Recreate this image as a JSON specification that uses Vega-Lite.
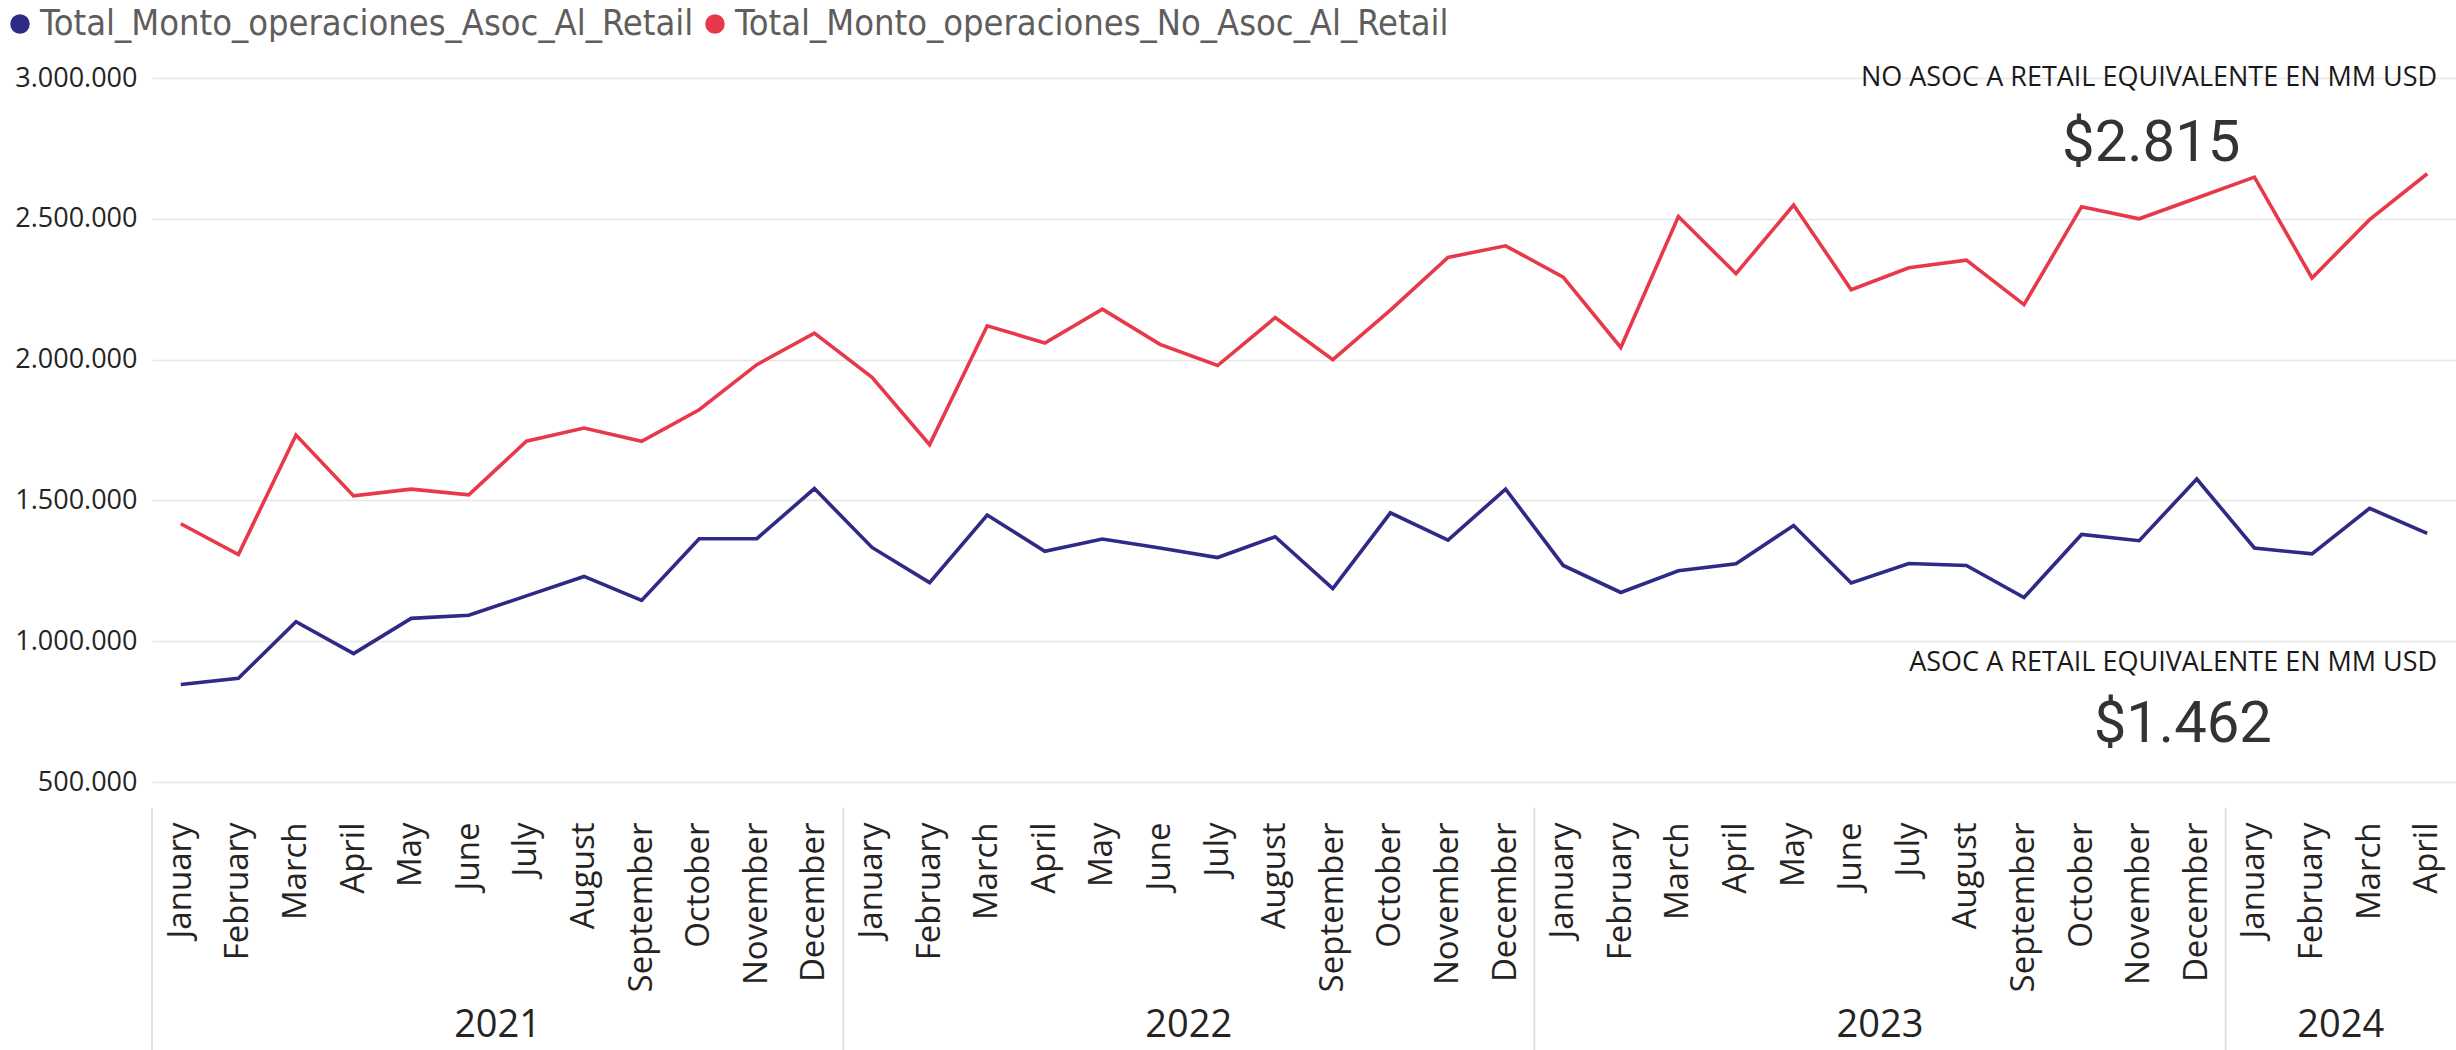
{
  "$schema": "https://vega.github.io/schema/vega-lite/v6.json",
  "width": 2304,
  "height": 704,
  "autosize": {"type": "none"},
  "padding": {"left": 152, "top": 78, "right": 0, "bottom": 268},
  "background": "white",
  "config": {
    "locale": {"number": {"decimal": ",", "thousands": ".", "grouping": [3], "currency": ["$", ""]}},
    "view": {"stroke": null},
    "font": "Open Sans"
  },
  "datasets": {
    "monthly": [
      {"period": "2021 January", "Total_Monto_operaciones_Asoc_Al_Retail": 846000, "Total_Monto_operaciones_No_Asoc_Al_Retail": 1417000},
      {"period": "2021 February", "Total_Monto_operaciones_Asoc_Al_Retail": 868000, "Total_Monto_operaciones_No_Asoc_Al_Retail": 1308000},
      {"period": "2021 March", "Total_Monto_operaciones_Asoc_Al_Retail": 1069000, "Total_Monto_operaciones_No_Asoc_Al_Retail": 1732000},
      {"period": "2021 April", "Total_Monto_operaciones_Asoc_Al_Retail": 956000, "Total_Monto_operaciones_No_Asoc_Al_Retail": 1516000},
      {"period": "2021 May", "Total_Monto_operaciones_Asoc_Al_Retail": 1081000, "Total_Monto_operaciones_No_Asoc_Al_Retail": 1540000},
      {"period": "2021 June", "Total_Monto_operaciones_Asoc_Al_Retail": 1092000, "Total_Monto_operaciones_No_Asoc_Al_Retail": 1520000},
      {"period": "2021 July", "Total_Monto_operaciones_Asoc_Al_Retail": 1161000, "Total_Monto_operaciones_No_Asoc_Al_Retail": 1710000},
      {"period": "2021 August", "Total_Monto_operaciones_Asoc_Al_Retail": 1230000, "Total_Monto_operaciones_No_Asoc_Al_Retail": 1757000},
      {"period": "2021 September", "Total_Monto_operaciones_Asoc_Al_Retail": 1145000, "Total_Monto_operaciones_No_Asoc_Al_Retail": 1710000},
      {"period": "2021 October", "Total_Monto_operaciones_Asoc_Al_Retail": 1364000, "Total_Monto_operaciones_No_Asoc_Al_Retail": 1822000},
      {"period": "2021 November", "Total_Monto_operaciones_Asoc_Al_Retail": 1364000, "Total_Monto_operaciones_No_Asoc_Al_Retail": 1982000},
      {"period": "2021 December", "Total_Monto_operaciones_Asoc_Al_Retail": 1542000, "Total_Monto_operaciones_No_Asoc_Al_Retail": 2094000},
      {"period": "2022 January", "Total_Monto_operaciones_Asoc_Al_Retail": 1333000, "Total_Monto_operaciones_No_Asoc_Al_Retail": 1937000},
      {"period": "2022 February", "Total_Monto_operaciones_Asoc_Al_Retail": 1208000, "Total_Monto_operaciones_No_Asoc_Al_Retail": 1698000},
      {"period": "2022 March", "Total_Monto_operaciones_Asoc_Al_Retail": 1448000, "Total_Monto_operaciones_No_Asoc_Al_Retail": 2120000},
      {"period": "2022 April", "Total_Monto_operaciones_Asoc_Al_Retail": 1319000, "Total_Monto_operaciones_No_Asoc_Al_Retail": 2059000},
      {"period": "2022 May", "Total_Monto_operaciones_Asoc_Al_Retail": 1363000, "Total_Monto_operaciones_No_Asoc_Al_Retail": 2179000},
      {"period": "2022 June", "Total_Monto_operaciones_Asoc_Al_Retail": 1331000, "Total_Monto_operaciones_No_Asoc_Al_Retail": 2054000},
      {"period": "2022 July", "Total_Monto_operaciones_Asoc_Al_Retail": 1297000, "Total_Monto_operaciones_No_Asoc_Al_Retail": 1979000},
      {"period": "2022 August", "Total_Monto_operaciones_Asoc_Al_Retail": 1371000, "Total_Monto_operaciones_No_Asoc_Al_Retail": 2149000},
      {"period": "2022 September", "Total_Monto_operaciones_Asoc_Al_Retail": 1187000, "Total_Monto_operaciones_No_Asoc_Al_Retail": 2000000},
      {"period": "2022 October", "Total_Monto_operaciones_Asoc_Al_Retail": 1456000, "Total_Monto_operaciones_No_Asoc_Al_Retail": 2176000},
      {"period": "2022 November", "Total_Monto_operaciones_Asoc_Al_Retail": 1359000, "Total_Monto_operaciones_No_Asoc_Al_Retail": 2363000},
      {"period": "2022 December", "Total_Monto_operaciones_Asoc_Al_Retail": 1540000, "Total_Monto_operaciones_No_Asoc_Al_Retail": 2404000},
      {"period": "2023 January", "Total_Monto_operaciones_Asoc_Al_Retail": 1269000, "Total_Monto_operaciones_No_Asoc_Al_Retail": 2293000},
      {"period": "2023 February", "Total_Monto_operaciones_Asoc_Al_Retail": 1173000, "Total_Monto_operaciones_No_Asoc_Al_Retail": 2043000},
      {"period": "2023 March", "Total_Monto_operaciones_Asoc_Al_Retail": 1250000, "Total_Monto_operaciones_No_Asoc_Al_Retail": 2508000},
      {"period": "2023 April", "Total_Monto_operaciones_Asoc_Al_Retail": 1275000, "Total_Monto_operaciones_No_Asoc_Al_Retail": 2305000},
      {"period": "2023 May", "Total_Monto_operaciones_Asoc_Al_Retail": 1411000, "Total_Monto_operaciones_No_Asoc_Al_Retail": 2549000},
      {"period": "2023 June", "Total_Monto_operaciones_Asoc_Al_Retail": 1207000, "Total_Monto_operaciones_No_Asoc_Al_Retail": 2248000},
      {"period": "2023 July", "Total_Monto_operaciones_Asoc_Al_Retail": 1276000, "Total_Monto_operaciones_No_Asoc_Al_Retail": 2326000},
      {"period": "2023 August", "Total_Monto_operaciones_Asoc_Al_Retail": 1269000, "Total_Monto_operaciones_No_Asoc_Al_Retail": 2353000},
      {"period": "2023 September", "Total_Monto_operaciones_Asoc_Al_Retail": 1155000, "Total_Monto_operaciones_No_Asoc_Al_Retail": 2195000},
      {"period": "2023 October", "Total_Monto_operaciones_Asoc_Al_Retail": 1379000, "Total_Monto_operaciones_No_Asoc_Al_Retail": 2543000},
      {"period": "2023 November", "Total_Monto_operaciones_Asoc_Al_Retail": 1357000, "Total_Monto_operaciones_No_Asoc_Al_Retail": 2500000},
      {"period": "2023 December", "Total_Monto_operaciones_Asoc_Al_Retail": 1576000, "Total_Monto_operaciones_No_Asoc_Al_Retail": 2574000},
      {"period": "2024 January", "Total_Monto_operaciones_Asoc_Al_Retail": 1331000, "Total_Monto_operaciones_No_Asoc_Al_Retail": 2648000},
      {"period": "2024 February", "Total_Monto_operaciones_Asoc_Al_Retail": 1310000, "Total_Monto_operaciones_No_Asoc_Al_Retail": 2290000},
      {"period": "2024 March", "Total_Monto_operaciones_Asoc_Al_Retail": 1472000, "Total_Monto_operaciones_No_Asoc_Al_Retail": 2497000},
      {"period": "2024 April", "Total_Monto_operaciones_Asoc_Al_Retail": 1383000, "Total_Monto_operaciones_No_Asoc_Al_Retail": 2660000}
    ],
    "years": [
      {"year": "2021", "start": "2021 January", "mid": "2021 July"},
      {"year": "2022", "start": "2022 January", "mid": "2022 July"},
      {"year": "2023", "start": "2023 January", "mid": "2023 July"},
      {"year": "2024", "start": "2024 January", "mid": "2024 March"}
    ],
    "cards": [
      {"card": "no", "title": "NO ASOC A RETAIL EQUIVALENTE EN MM USD", "amount": "$2.815"},
      {"card": "asoc", "title": "ASOC A RETAIL EQUIVALENTE EN MM USD", "amount": "$1.462"}
    ]
  },
  "layer": [
    {
      "data": {"name": "monthly"},
      "transform": [{"fold": ["Total_Monto_operaciones_Asoc_Al_Retail", "Total_Monto_operaciones_No_Asoc_Al_Retail"], "as": ["series", "monto"]}],
      "mark": {"type": "line", "strokeWidth": 3.6},
      "encoding": {
        "x": {
          "field": "period", "type": "ordinal", "bandPosition": 0.5, "title": null,
          "scale": {"type": "band", "paddingInner": 0, "paddingOuter": 0, "domain": [
            "2021 January", "2021 February", "2021 March", "2021 April", "2021 May", "2021 June", "2021 July", "2021 August", "2021 September", "2021 October", "2021 November", "2021 December",
            "2022 January", "2022 February", "2022 March", "2022 April", "2022 May", "2022 June", "2022 July", "2022 August", "2022 September", "2022 October", "2022 November", "2022 December",
            "2023 January", "2023 February", "2023 March", "2023 April", "2023 May", "2023 June", "2023 July", "2023 August", "2023 September", "2023 October", "2023 November", "2023 December",
            "2024 January", "2024 February", "2024 March", "2024 April"]},
          "axis": {
            "labelExpr": "substring(datum.value, 5)",
            "labelAngle": -90, "labelAlign": "right", "labelBaseline": "middle",
            "labelFont": "Open Sans", "labelFontSize": 33, "labelColor": "#252423",
            "labelPadding": 40, "ticks": false, "domain": false, "grid": false, "labelOverlap": false, "labelLimit": 400
          }
        },
        "y": {
          "field": "monto", "type": "quantitative", "title": null,
          "scale": {"domain": [500000, 3000000], "nice": false, "zero": false},
          "axis": {
            "values": [500000, 1000000, 1500000, 2000000, 2500000, 3000000],
            "format": ",d",
            "labelFont": "Open Sans", "labelFontSize": 27, "labelColor": "#252423", "labelPadding": 15,
            "ticks": false, "domain": false, "grid": true, "gridColor": "#E6E6E6", "gridWidth": 1.5
          }
        },
        "color": {
          "field": "series", "type": "nominal",
          "scale": {"domain": ["Total_Monto_operaciones_Asoc_Al_Retail", "Total_Monto_operaciones_No_Asoc_Al_Retail"], "range": ["#2E2A85", "#E8394A"]},
          "legend": {
            "orient": "none", "legendX": -150, "legendY": -72, "direction": "horizontal", "title": null,
            "labelFont": "Liberation Sans Narrow, DejaVu Sans Condensed, sans-serif", "labelFontSize": 36, "labelColor": "#605E5C",
            "symbolType": "circle", "symbolSize": 380, "columnPadding": 3, "labelOffset": 2, "labelLimit": 1000,
            "encode": {"symbols": {"update": {"fill": {"scale": "color", "field": "value"}, "fillOpacity": {"value": 1}, "strokeWidth": {"value": 0}}}}
          }
        }
      }
    },
    {
      "data": {"name": "years"},
      "mark": {"type": "rule", "color": "#E1E1E1", "strokeWidth": 2},
      "encoding": {
        "x": {"field": "start", "type": "ordinal", "bandPosition": 0, "title": null},
        "y": {"datum": 408000, "type": "quantitative"},
        "y2": {"datum": -452000}
      }
    },
    {
      "data": {"name": "years"},
      "mark": {"type": "text", "font": "Open Sans", "fontSize": 38, "color": "#252423", "align": "center", "baseline": "middle"},
      "encoding": {
        "x": {"field": "mid", "type": "ordinal", "bandPosition": 0, "title": null},
        "y": {"datum": -366000, "type": "quantitative"},
        "text": {"field": "year"}
      }
    },
    {
      "data": {"name": "cards"},
      "transform": [{"filter": "datum.card == 'no'"}],
      "mark": {"type": "text", "font": "Open Sans", "fontSize": 27, "color": "#1A1A1A", "align": "right", "baseline": "middle", "dx": 10},
      "encoding": {
        "x": {"datum": "2024 April", "type": "ordinal", "bandPosition": 0.5},
        "y": {"datum": 3000000, "type": "quantitative"},
        "text": {"field": "title"}
      }
    },
    {
      "data": {"name": "cards"},
      "transform": [{"filter": "datum.card == 'no'"}],
      "mark": {"type": "text", "font": "Roboto", "fontSize": 58, "color": "#333333", "align": "center", "baseline": "middle", "dx": 12},
      "encoding": {
        "x": {"datum": "2023 November", "type": "ordinal", "bandPosition": 0.5},
        "y": {"datum": 2766000, "type": "quantitative"},
        "text": {"field": "amount"}
      }
    },
    {
      "data": {"name": "cards"},
      "transform": [{"filter": "datum.card == 'asoc'"}],
      "mark": {"type": "text", "font": "Open Sans", "fontSize": 27, "color": "#1A1A1A", "align": "right", "baseline": "middle", "dx": 10},
      "encoding": {
        "x": {"datum": "2024 April", "type": "ordinal", "bandPosition": 0.5},
        "y": {"datum": 923000, "type": "quantitative"},
        "text": {"field": "title"}
      }
    },
    {
      "data": {"name": "cards"},
      "transform": [{"filter": "datum.card == 'asoc'"}],
      "mark": {"type": "text", "font": "Roboto", "fontSize": 58, "color": "#333333", "align": "center", "baseline": "middle", "dx": -14},
      "encoding": {
        "x": {"datum": "2023 December", "type": "ordinal", "bandPosition": 0.5},
        "y": {"datum": 702000, "type": "quantitative"},
        "text": {"field": "amount"}
      }
    }
  ]
}
